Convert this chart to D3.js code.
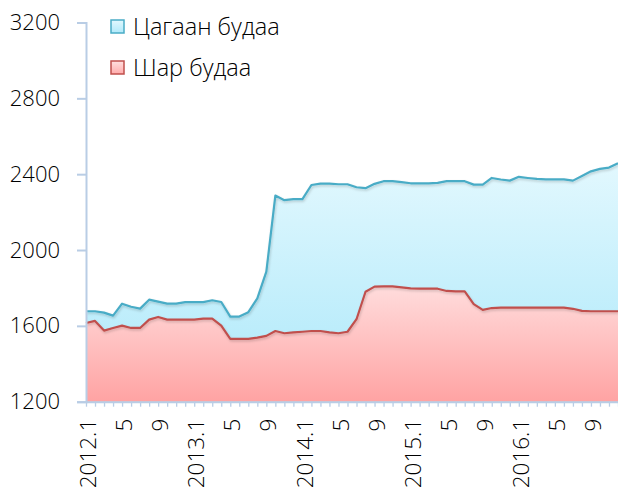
<!DOCTYPE html>
<html>
<head>
<meta charset="utf-8">
<script src="https://cdn.jsdelivr.net/npm/d3@7"></script>
<style>
  html, body { margin: 0; padding: 0; background: #fff; }
  svg { display: block; font-family: "Open Sans", sans-serif; font-weight: 300; }
</style>
</head>
<body>
<svg id="chart" width="618" height="495"></svg>
<script>
// Monthly rice prices, 2012.1 – 2016.12
const years = [2012, 2013, 2014, 2015, 2016];
const months = years.flatMap(y => d3.range(1, 13).map(m => ({ year: y, month: m })));

const cagaan = [
  1677, 1677, 1670, 1654, 1717, 1701, 1691, 1738, 1728, 1717, 1717, 1725,
  1725, 1725, 1735, 1726, 1649, 1649, 1672, 1745, 1886, 2287, 2263, 2268,
  2268, 2343, 2350, 2350, 2347, 2347, 2331, 2326, 2349, 2363, 2363, 2358,
  2352, 2352, 2352, 2354, 2363, 2363, 2363, 2345, 2345, 2380, 2372, 2366,
  2386, 2380, 2375, 2373, 2373, 2373, 2366, 2390, 2415, 2428, 2435, 2458
];
const shar = [
  1615, 1626, 1575, 1589, 1601, 1589, 1589, 1633, 1647, 1633, 1633, 1633,
  1633, 1638, 1638, 1601, 1531, 1531, 1531, 1538, 1547, 1573, 1561, 1566,
  1569, 1573, 1573, 1566, 1561, 1569, 1635, 1780, 1807, 1808, 1808, 1803,
  1798, 1796, 1796, 1796, 1784, 1782, 1782, 1715, 1684, 1694, 1696, 1696,
  1696, 1696, 1696, 1696, 1696, 1696, 1690, 1679, 1677, 1677, 1677, 1677
];
const yTicks = [1200, 1600, 2000, 2400, 2800, 3200];
const seriesNames = ["Цагаан будаа", "Шар будаа"];

const svg = d3.select("#chart");
const plotLeft = 86, plotRight = 618, plotTop = 22.5, plotBottom = 401.7;

const x = d3.scalePoint().domain(d3.range(months.length)).range([plotLeft, plotRight]);
const y = d3.scaleLinear().domain([1200, 3200]).range([plotBottom, plotTop]);

const defs = svg.append("defs");
function grad(id, c1, c2) {
  const g = defs.append("linearGradient").attr("id", id)
    .attr("x1", 0).attr("y1", 0).attr("x2", 0).attr("y2", 1);
  g.append("stop").attr("offset", "0%").attr("stop-color", c1);
  g.append("stop").attr("offset", "100%").attr("stop-color", c2);
}
grad("gBlue", "#e2f8fe", "#ace8fa");
grad("gRed", "#ffdcdc", "#ffa3a3");
grad("gBlueKey", "#e2f8fe", "#b0e9fa");
grad("gRedKey", "#ffe0e0", "#ffabab");

const shadow = defs.append("filter").attr("id", "shadow")
  .attr("x", "-5%").attr("y", "-5%").attr("width", "110%").attr("height", "120%");
shadow.append("feDropShadow").attr("dx", 0.8).attr("dy", 1.5)
  .attr("stdDeviation", 1).attr("flood-color", "#000").attr("flood-opacity", 0.18);

const area = vals => d3.area()
  .x((d, i) => x(i)).y0(y(1200)).y1(d => y(d))(vals);
const line = vals => d3.line().x((d, i) => x(i)).y(d => y(d))(vals);

// filled areas
svg.append("path").attr("d", area(cagaan)).attr("fill", "url(#gBlue)");
svg.append("path").attr("d", area(shar)).attr("fill", "url(#gRed)");

// outlines
svg.append("path").attr("d", line(cagaan)).attr("fill", "none")
  .attr("stroke", "#4aacc6").attr("stroke-width", 2.2)
  .attr("stroke-linejoin", "round").attr("filter", "url(#shadow)");
svg.append("path").attr("d", line(shar)).attr("fill", "none")
  .attr("stroke", "#c0504d").attr("stroke-width", 2.2)
  .attr("stroke-linejoin", "round").attr("filter", "url(#shadow)");

const axisColor = "#b9cde5";

// y axis
const yAxis = svg.append("g").attr("transform", `translate(${plotLeft},0)`)
  .call(d3.axisLeft(y).tickValues(yTicks).tickSize(9).tickPadding(17).tickFormat(d3.format("d")));
yAxis.select(".domain").attr("stroke", axisColor).attr("stroke-width", 2);
yAxis.selectAll(".tick line").attr("stroke", axisColor).attr("stroke-width", 2);
yAxis.selectAll(".tick text").attr("fill", "#000").style("font-size", "22px")
  .style("font-family", "'Open Sans', sans-serif").style("font-weight", 300);

// x axis
const xAxis = svg.append("g").attr("transform", `translate(0,${plotBottom})`)
  .call(d3.axisBottom(x).tickSize(5).tickSizeOuter(0).tickFormat(""));
xAxis.select(".domain").attr("stroke", axisColor).attr("stroke-width", 2);
xAxis.selectAll(".tick line").attr("stroke", axisColor).attr("stroke-width", 1.3);

// month labels every four months
const labelIdx = d3.range(0, months.length, 4);
svg.append("g").selectAll("text").data(labelIdx).join("text")
  .attr("transform", i => `translate(${x(i) + 2},${plotBottom + 17}) rotate(-90)`)
  .attr("text-anchor", "end").attr("dy", "0.36em")
  .style("font-size", "22.5px").attr("fill", "#000")
  .text(i => months[i].month === 1 ? `${months[i].year}.1` : `${months[i].month}`);

// legend
const legend = svg.append("g");
const keys = [
  { name: seriesNames[0], fill: "url(#gBlueKey)", stroke: "#4aacc6", yy: 20 },
  { name: seriesNames[1], fill: "url(#gRedKey)", stroke: "#c0504d", yy: 61 }
];
keys.forEach(k => {
  legend.append("rect").attr("x", 111).attr("y", k.yy).attr("width", 13).attr("height", 13)
    .attr("fill", k.fill).attr("stroke", k.stroke).attr("stroke-width", 1.5);
  legend.append("text").attr("x", 133).attr("y", k.yy + 15)
    .style("font-size", "23.5px").attr("fill", "#000").text(k.name);
});
</script>
</body>
</html>
